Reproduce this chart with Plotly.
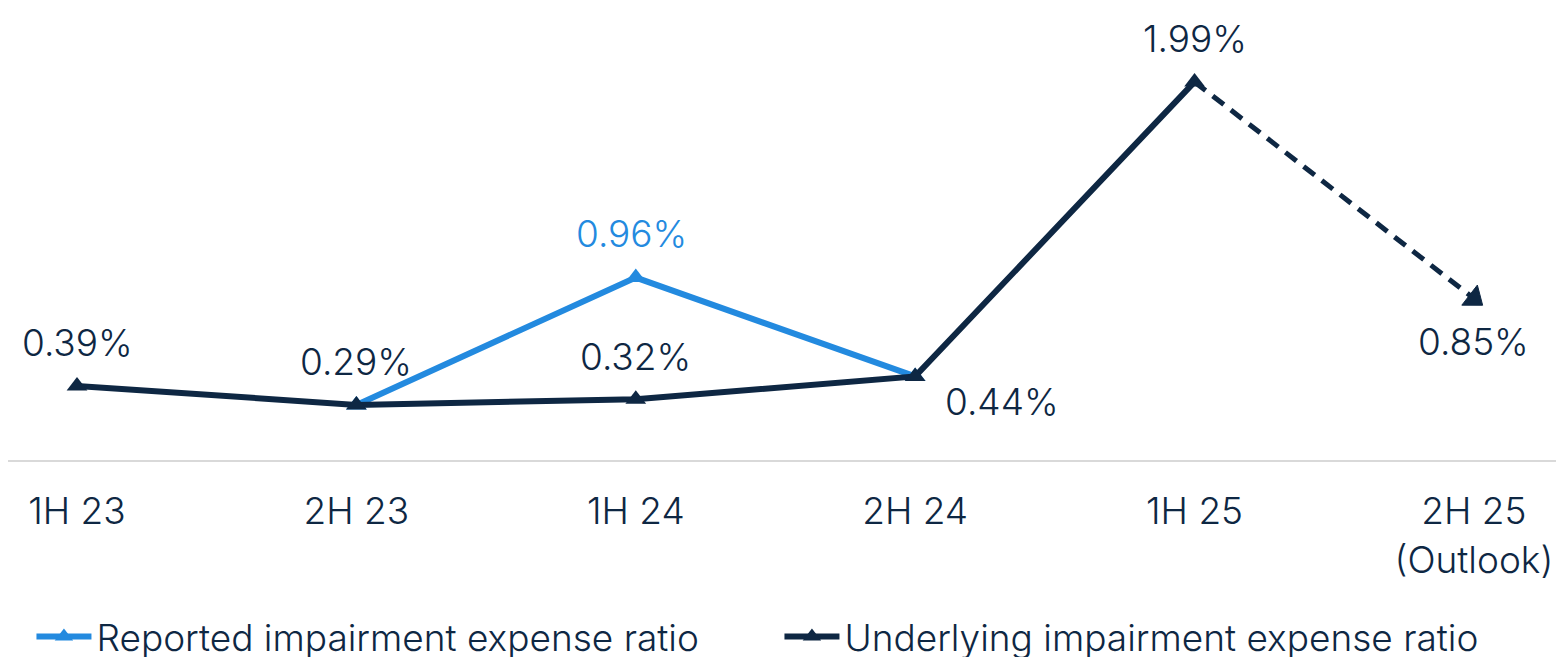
import plotly.graph_objects as go

categories = ["1H 23", "2H 23", "1H 24", "2H 24", "1H 25", "2H 25<br>(Outlook)"]
underlying = [0.39, 0.29, 0.32, 0.44, 1.99]
outlook_x = ["1H 25", "2H 25<br>(Outlook)"]
outlook = [1.99, 0.85]
reported_x = ["2H 23", "1H 24", "2H 24"]
reported = [0.29, 0.96, 0.44]

NAVY = "#0E2743"
BLUE = "#238ADF"
FONT = "Inter"

fig = go.Figure()
fig.add_trace(go.Scatter(
    x=reported_x, y=reported, mode="lines+markers",
    name="Reported impairment expense ratio",
    line=dict(color=BLUE, width=6),
    marker=dict(symbol="triangle-up", size=18, color=BLUE),
))
fig.add_trace(go.Scatter(
    x=categories[:5], y=underlying, mode="lines+markers",
    name="Underlying impairment expense ratio",
    line=dict(color=NAVY, width=6),
    marker=dict(symbol="triangle-up", size=18, color=NAVY),
))
fig.add_trace(go.Scatter(
    x=outlook_x, y=outlook, mode="lines+markers", showlegend=False,
    line=dict(color=NAVY, width=5, dash="14px,9px"),
    marker=dict(symbol="triangle-up", size=[0, 22], color=NAVY, opacity=1,
                line=dict(color=NAVY, width=1), angleref="previous"),
))

# data labels
label_specs = []
for i, v in enumerate(underlying):
    label_specs.append((categories[i], v, NAVY, 0, 43))
label_specs[3] = (categories[3], underlying[3], NAVY, 87, -25)
label_specs.append((outlook_x[1], outlook[1], NAVY, 0, -43))
label_specs.append((reported_x[1], reported[1], BLUE, -4, 44))
annotations = []
for x, v, c, xs, ys in label_specs:
    annotations.append(dict(
        x=x, y=v, text=f"{v:.2f}%", showarrow=False, xshift=xs, yshift=ys,
        font=dict(family=FONT, size=37, color=c, weight=300),
        xanchor="center", yanchor="middle",
    ))

fig.update_layout(
    width=1564, height=657,
    margin=dict(l=0, r=0, t=0, b=205, pad=0, autoexpand=False),
    paper_bgcolor="white", plot_bgcolor="white",
    font=dict(family=FONT, size=36, color=NAVY, weight=300),
    annotations=annotations,
    showlegend=True,
    legend=dict(
        orientation="h", x=0.015, y=-0.3916, xanchor="left", yanchor="middle",
        font=dict(family=FONT, size=37, color=NAVY, weight=300),
        itemwidth=55, entrywidth=678, entrywidthmode="pixels",
        bgcolor="rgba(0,0,0,0)",
    ),
)
fig.update_xaxes(
    type="category", categoryorder="array", categoryarray=categories,
    range=[-0.247, 5.351], showgrid=False, zeroline=False, automargin=False,
    showline=True, linecolor="#D9D9D9", linewidth=2, ticks="",
    tickfont=dict(family=FONT, size=37, color=NAVY, weight=300),
    ticklabelstandoff=18,
)
fig.update_yaxes(range=[0, 2.379], visible=False, showgrid=False,
                 zeroline=False, automargin=False)

fig.write_html("out.html")
